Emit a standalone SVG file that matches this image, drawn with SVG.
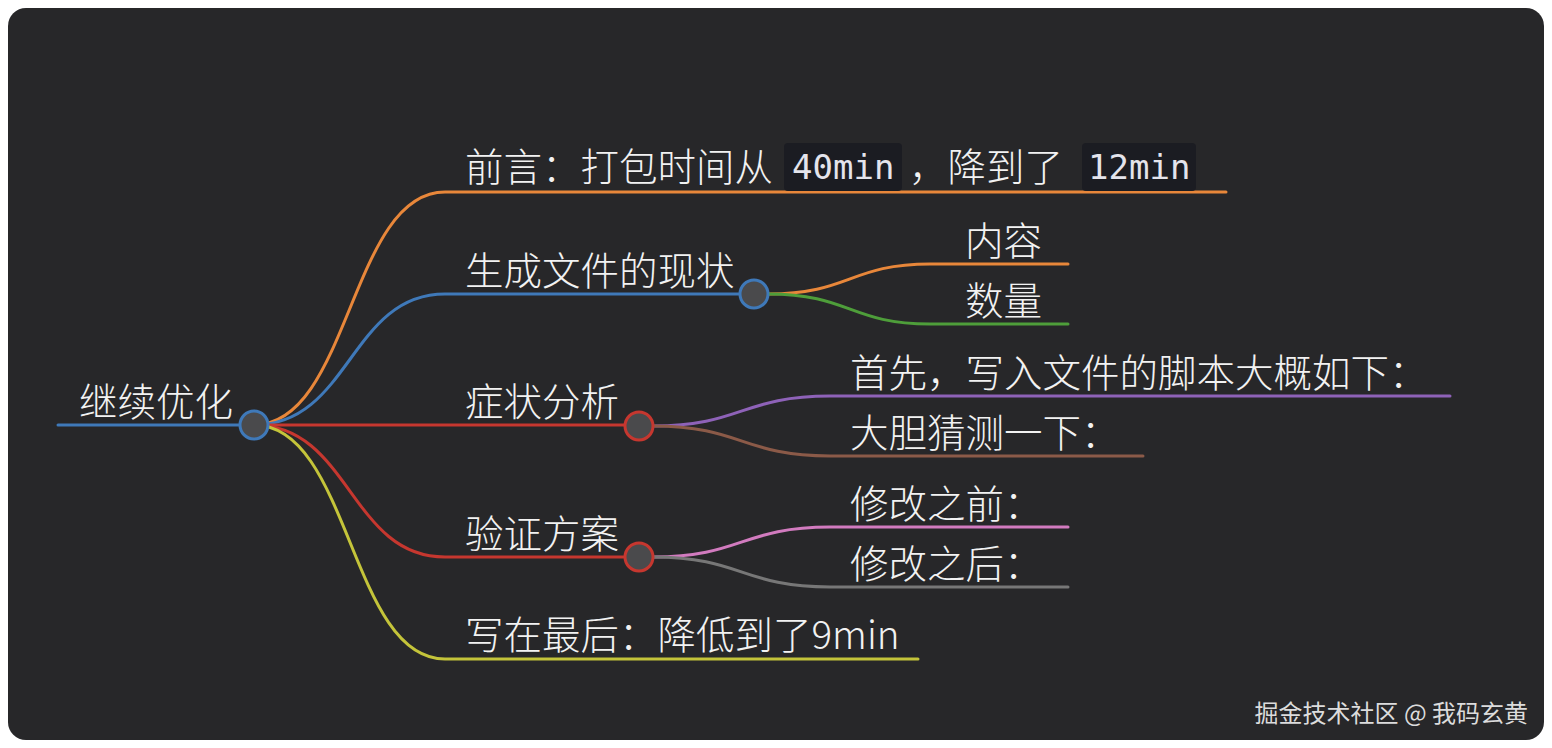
<svg xmlns="http://www.w3.org/2000/svg" width="1552" height="748" viewBox="0 0 1552 748">
<style>
.t{font-family:"Noto Sans CJK SC","Liberation Sans",sans-serif;font-size:38.5px;fill:#f2f2f2;font-weight:300}
.c{font-family:"DejaVu Sans Mono","Liberation Mono",monospace;font-size:34px;fill:#e4e4ec}
.l{fill:none;stroke-width:3;stroke-linecap:round}
.n{fill:#4a4a4c;stroke-width:3}
.code{fill:#1b1c22}
.wm{font-family:"Noto Sans CJK SC","Liberation Sans",sans-serif;font-size:24px;fill:#dcdcdc;text-anchor:end}
</style>
<rect x="0" y="0" width="1552" height="748" fill="#ffffff"/>
<rect x="8" y="8" width="1536" height="732" rx="18" fill="#272729"/>
<g id="connectors">
<path class="l" stroke="#3f79b9" d="M58,425 H240"/>
<path class="l" stroke="#e8873a" d="M254,425 C350,425 350,192 445,192 H1226"/>
<path class="l" stroke="#3f79b9" d="M254,425 C350,425 350,294 445,294 H740"/>
<path class="l" stroke="#c6372f" d="M254,425 H625"/>
<path class="l" stroke="#c6372f" d="M254,425 C350,425 350,557 445,557 H625"/>
<path class="l" stroke="#c4c43a" d="M254,425 C350,425 350,659 445,659 H918"/>
<path class="l" stroke="#e8873a" d="M768,294 C850,294 850,264 930,264 H1068"/>
<path class="l" stroke="#4e9e3a" d="M768,294 C850,294 850,324 930,324 H1068"/>
<path class="l" stroke="#8e62b8" d="M653,426 C742,426 742,396 830,396 H1450"/>
<path class="l" stroke="#8b5a48" d="M653,426 C742,426 742,456 830,456 H1143"/>
<path class="l" stroke="#d27bbf" d="M653,557 C742,557 742,527 830,527 H1068"/>
<path class="l" stroke="#777777" d="M653,557 C742,557 742,587 830,587 H1068"/>
</g>
<g id="root">
<text class="t" x="79" y="416">继续优化</text>
<circle class="n" cx="254" cy="425" r="14" stroke="#3f79b9"/>
</g>
<g id="n-preface">
<text class="t" x="465" y="181">前言：打包时间从</text>
<rect class="code" x="784" y="143" width="118" height="48" rx="4"/>
<text class="c" x="792" y="179">40min</text>
<text class="t" x="909" y="181">，降到了</text>
<rect class="code" x="1082" y="143" width="114" height="48" rx="4"/>
<text class="c" x="1088" y="179">12min</text>
</g>
<g id="n-status">
<text class="t" x="465" y="285">生成文件的现状</text>
<circle class="n" cx="754" cy="294" r="14" stroke="#3f79b9"/>
</g>
<g id="n-content"><text class="t" x="965" y="255">内容</text></g>
<g id="n-count"><text class="t" x="965" y="315">数量</text></g>
<g id="n-symptom">
<text class="t" x="465" y="416">症状分析</text>
<circle class="n" cx="639" cy="426" r="14" stroke="#c6372f"/>
</g>
<g id="n-first"><text class="t" x="850" y="387">首先，写入文件的脚本大概如下：</text></g>
<g id="n-guess"><text class="t" x="850" y="447">大胆猜测一下：</text></g>
<g id="n-verify">
<text class="t" x="465" y="548">验证方案</text>
<circle class="n" cx="639" cy="557" r="14" stroke="#c6372f"/>
</g>
<g id="n-before"><text class="t" x="850" y="518">修改之前：</text></g>
<g id="n-after"><text class="t" x="850" y="578">修改之后：</text></g>
<g id="n-last"><text class="t" x="465" y="649">写在最后：降低到了9min</text></g>
<text class="wm" x="1528" y="722">掘金技术社区 @ 我码玄黄</text>
</svg>
